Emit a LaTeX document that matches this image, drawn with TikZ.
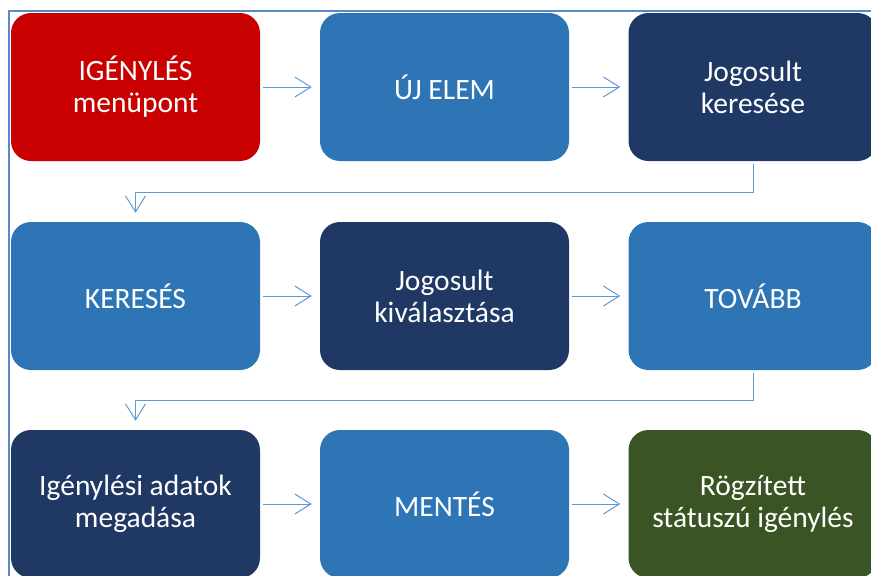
\documentclass[tikz,border=0pt]{standalone}
\usepackage{fontspec}
\setmainfont{Carlito}
\usetikzlibrary{arrows.meta}
\definecolor{cred}{HTML}{C80000}
\definecolor{cblue}{HTML}{2E75B6}
\definecolor{cnavy}{HTML}{1F3864}
\definecolor{cgreen}{HTML}{3A5424}
\definecolor{cline}{HTML}{5B9BD5}
\definecolor{cframe}{HTML}{5A8AC6}
\tikzset{
  box/.style={rectangle, rounded corners=20pt, minimum width=249pt, minimum height=148pt,
    text=white, align=center, font=\fontsize{29.5pt}{32pt}\selectfont, inner sep=0pt},
  conn/.style={draw=cline, line width=1pt, -{Straight Barb[length=16pt,width=20pt,line width=1pt]}},
}
\begin{document}
\begin{tikzpicture}[x=1pt,y=-1pt]
\useasboundingbox (0,0) rectangle (871,576);
\begin{scope}
\clip (0,0) rectangle (871,576);
\draw[cframe, line width=1.5pt] (9,600) -- (9,11) -- (900,11);
\node[box, fill=cred]   (a) at (135.5,87) {IGÉNYLÉS\\menüpont};
\node[box, fill=cblue]  (b) at (444.5,87) {ÚJ ELEM};
\node[box, fill=cnavy]  (c) at (753,87) {Jogosult\\keresése};
\node[box, fill=cblue]  (d) at (135.5,296) {KERESÉS};
\node[box, fill=cnavy]  (e) at (444.5,296) {Jogosult\\kiválasztása};
\node[box, fill=cblue]  (f) at (753,296) {TOVÁBB};
\node[box, fill=cnavy]  (g) at (135.5,504) {Igénylési adatok\\megadása};
\node[box, fill=cblue]  (h) at (444.5,504) {MENTÉS};
\node[box, fill=cgreen] (i) at (753,504) {Rögzített\\státuszú igénylés};
\coordinate (k1) at (753,192);
\coordinate (k2) at (135.5,192);
\coordinate (k3) at (753,400);
\coordinate (k4) at (135.5,400);
\draw[conn, shorten <=3pt, shorten >=8pt] (a) -- (b);
\draw[conn, shorten <=3pt, shorten >=8pt] (b) -- (c);
\draw[conn, shorten <=3pt, shorten >=8pt] (d) -- (e);
\draw[conn, shorten <=3pt, shorten >=8pt] (e) -- (f);
\draw[conn, shorten <=3pt, shorten >=8pt] (g) -- (h);
\draw[conn, shorten <=3pt, shorten >=8pt] (h) -- (i);
\draw[conn, shorten <=3pt, shorten >=9pt] (c.south) -- (k1) -- (k2) -- (d.north);
\draw[conn, shorten <=3pt, shorten >=9pt] (f.south) -- (k3) -- (k4) -- (g.north);
\end{scope}
\end{tikzpicture}
\end{document}
